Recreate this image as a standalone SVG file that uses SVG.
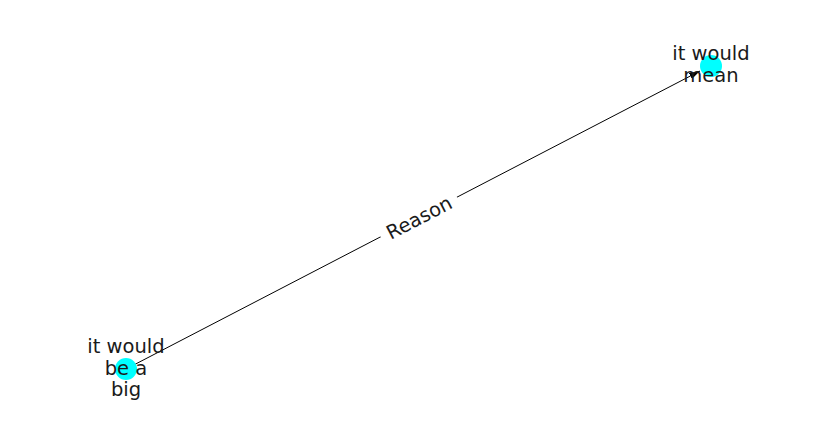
<svg xmlns="http://www.w3.org/2000/svg" width="837" height="434" viewBox="0 0 837 434">
<style>
text{font-family:"DejaVu Sans",sans-serif;font-size:19.5px;fill:#1a1a1a;text-anchor:middle}
.node{fill:#00ffff}
.edge{stroke:#000;stroke-width:1;fill:none}
</style>
<defs>
<marker id="arr" viewBox="0 0 10 6" refX="10" refY="3" markerWidth="11" markerHeight="6.5" markerUnits="userSpaceOnUse" orient="auto">
<path d="M0,0 L10,3 L0,6 Z" fill="#000"/>
</marker>
</defs>
<rect width="837" height="434" fill="#fff"/>
<g id="connectors">
<line class="edge" x1="126" y1="369" x2="700" y2="71" marker-end="url(#arr)"/>
<g transform="translate(419,217.5) rotate(-27.38)">
<rect x="-43" y="-12" width="86" height="24" fill="#fff"/>
<text x="0" y="7">Reason</text>
</g>
</g>
<g id="node1">
<circle class="node" cx="711" cy="66" r="11"/>
<text x="711" y="60">it would</text>
<text x="711" y="82">mean</text>
</g>
<g id="node2">
<circle class="node" cx="126" cy="369" r="11"/>
<text x="126" y="353">it would</text>
<text x="126" y="375">be a</text>
<text x="126" y="396">big</text>
</g>
</svg>
